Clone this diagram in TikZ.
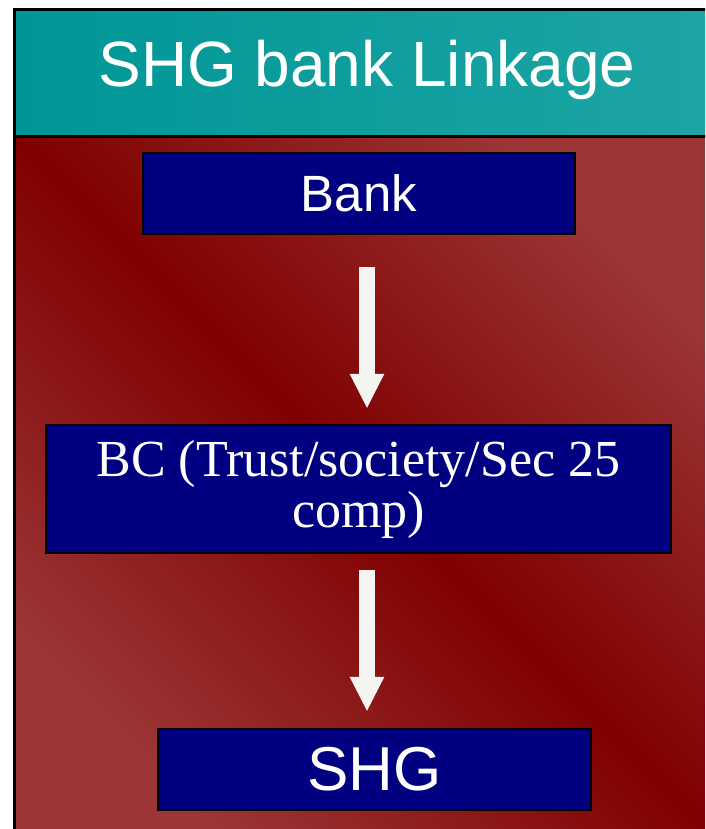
\documentclass[tikz,border=0pt]{standalone}
\usepackage{fontspec}
\setmainfont{Liberation Serif}
\setsansfont{Liberation Sans}
\usepackage{tikz}
\usetikzlibrary{arrows.meta}
\usetikzlibrary{positioning}

\definecolor{tealA}{RGB}{0,150,150}
\definecolor{tealB}{RGB}{30,165,165}
\definecolor{redLight}{RGB}{156,54,54}
\definecolor{redDark}{RGB}{128,0,0}
\definecolor{navy}{RGB}{0,0,128}
\definecolor{arrowwhite}{RGB}{244,244,240}

\begin{document}
\begin{tikzpicture}
    [
    x=1pt,y=-1pt,
    box/.style={rectangle,draw=black,line width=2.5pt,fill=navy,text=white,inner sep=0pt,align=center},
    flow/.style={arrowwhite,line width=16pt,-{Triangle[length=35pt,width=32pt]}},
    ]
    \useasboundingbox (0,0) rectangle (705,829);
    \clip (0,0) rectangle (705,829);
    \fill [white] (0,0) rectangle (705,829);

    % background and header
    \shade [top color=redLight,bottom color=redLight,middle color=redDark,shading angle=-45]
      (14,137) rectangle (720,840);
    \shade [left color=tealA,right color=tealB] (14,10) rectangle (720,137);
    \draw [line width=3pt] (14,137) -- (720,137);
    \draw [line width=3pt] (14,840) -- (14,10) -- (720,10);
    \node (title) at (367,70) [text=white,font=\sffamily\fontsize{64}{64}\selectfont] {SHG bank Linkage};

    % boxes
    \node (bank) at (359,193.5) [box,minimum width=432pt,minimum height=81pt,font=\sffamily\fontsize{51}{51}\selectfont] {Bank};
    \node (bc) at (358.5,489) [box,minimum width=625pt,minimum height=128pt,font=\fontsize{52}{51}\selectfont] {BC (Trust/society/Sec 25\\comp)};
    \node (shg) at (374.5,769.5) [box,minimum width=433pt,minimum height=81pt,font=\sffamily\fontsize{62}{62}\selectfont] {SHG};

    % arrows
    \draw [flow,shorten <=32pt,shorten >=15pt] ([xshift=8pt]bank.south) to ([xshift=8.5pt]bc.north);
    \draw [flow,shorten <=16pt,shorten >=16pt] ([xshift=8.5pt]bc.south) to ([xshift=-7.5pt]shg.north);
  \end{tikzpicture}
\end{document}
